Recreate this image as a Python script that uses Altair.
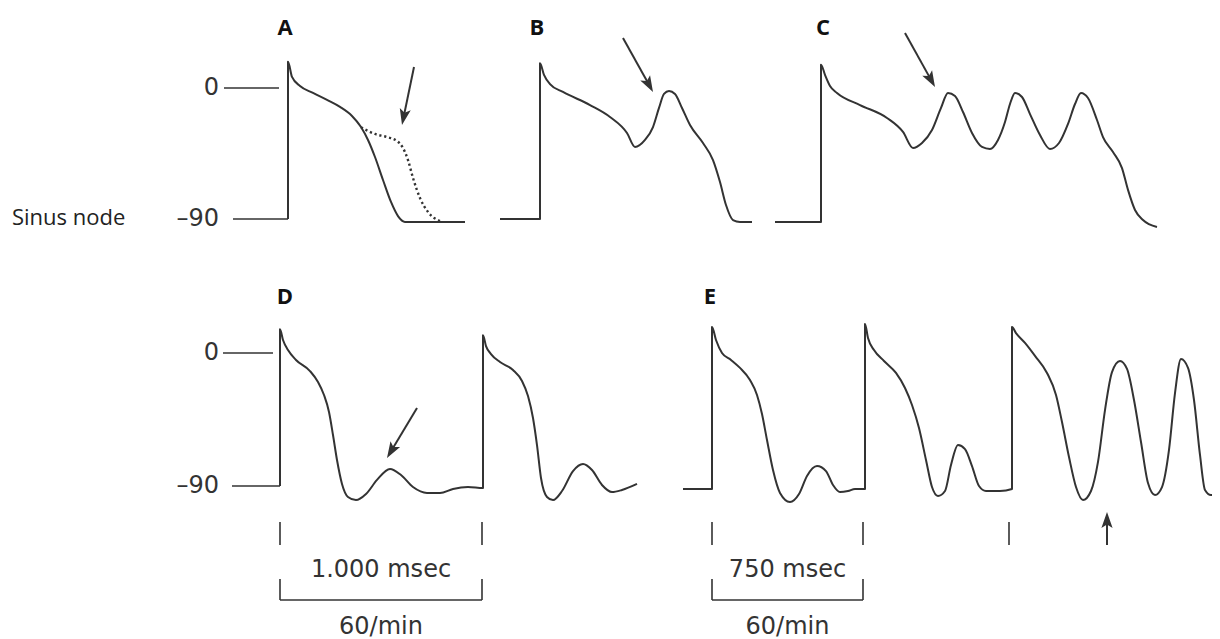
import math
import altair as alt
import pandas as pd

# ---------------- values ----------------
# time in ms measured from each trace's first upstroke, potential in mV
A_T = [0, 0, 20, 60, 125, 195, 260, 320, 365, 400, 435, 475, 515, 550, 585, 885]
A_V = [-90, 18, 7.6, 1.4, -3.4, -8.2, -13, -19.2, -26.8, -35.7, -47.4, -63.2, -78.3, -88, -92, -92]

A_DOT_T = [365, 435, 495, 545, 575, 600, 625, 660, 700, 760]
A_DOT_V = [-27, -31.6, -33.7, -36.4, -41.2, -49.5, -61.8, -75.6, -85.2, -91.4]

B_T = [-200, 0, 0, 20, 50, 115, 250, 350, 435, 475, 525, 565, 595, 620, 645, 675, 710,
       750, 815, 865, 900, 930, 965, 1000, 1060]
B_V = [-90, -90, 17, 9, 2.7, -2.7, -11.7, -19.9, -30.9, -40.5, -35.7, -26.8, -13.7, -4.1,
       -2.1, -4.1, -13.7, -25.4, -37.8, -49.5, -64.6, -80.4, -90.7, -92, -92]

C_T = [-230, 0, 0, 20, 45, 80, 195, 330, 410, 460, 505, 555, 600, 635, 670, 710, 755, 805,
       845, 885, 920, 945, 970, 1005, 1045, 1095, 1145, 1190, 1235, 1270, 1300, 1335, 1380,
       1410, 1460, 1505, 1535, 1570, 1610, 1680]
C_V = [-92, -92, 16, 9, 1.4, -3.4, -11.7, -20.6, -30.2, -41.2, -37.8, -28.9, -13.7, -3.4,
       -5.5, -16.5, -30.9, -40.5, -41.9, -35.7, -23.4, -11, -3.4, -6.2, -17.9, -32.3, -41.9,
       -37.8, -24.7, -11, -3.4, -6.9, -22, -33.7, -44, -55, -70, -83.8, -90.7, -95.5]

D_T = [0, 0, 15, 40, 80, 150, 190, 220, 245, 265, 285, 310, 340, 380, 430, 485, 550, 605,
       665, 735, 800, 865, 940, 1015, 1015, 1030, 1055, 1100, 1165, 1210, 1240, 1265, 1285,
       1305, 1335, 1365, 1410, 1465, 1515, 1560, 1610, 1660, 1710, 1785]
D_V = [-90, 16, 8.8, 2, -4.7, -12.2, -19.6, -28.4, -39.9, -55.5, -72.4, -88.6, -97.4, -99.5,
       -95.4, -85.9, -78.5, -82.6, -90.7, -94.7, -94.7, -92, -90.7, -91.4, 12, 4.7, -0.7,
       -6.1, -11.5, -18.9, -29.1, -44, -62.3, -84.6, -97.4, -99.5, -93.4, -79.9, -75.1,
       -79.2, -89.3, -94.1, -92.7, -88.6]

E_T = [-145, 0, 0, 20, 50, 95, 140, 190, 225, 250, 275, 305, 340, 390, 435, 475, 525, 570,
       605, 640, 680, 715, 765, 765, 780, 810, 860, 920, 965, 1000, 1035, 1070, 1100, 1130,
       1165, 1195, 1230, 1265, 1300, 1335, 1370, 1440, 1500, 1500, 1520, 1565, 1615, 1675,
       1720, 1750, 1785, 1820, 1855, 1895, 1930, 1965, 2000, 2040, 2075, 2110, 2145, 2180,
       2215, 2250, 2285, 2315, 2345, 2380, 2410, 2440, 2465, 2495, 2540]
E_V = [-92, -92, 17.6, 8.8, 0, -4.7, -10.1, -18.3, -28.4, -41.3, -58.9, -79.2, -94.7, -100.8,
       -95.4, -83.2, -76.5, -79.9, -89.3, -94.1, -93.4, -92, -92, 19.6, 10.1, 2, -5.4, -13.5,
       -23.7, -35.2, -50.8, -72.4, -90.7, -96.8, -93.4, -75.8, -62.3, -65, -76.5, -90, -93.4,
       -93.4, -92, 17.6, 13.5, 6.8, -2, -13.5, -28.4, -46.7, -70.4, -90.7, -99.5, -93.4,
       -73.7, -38.6, -12.9, -5.4, -10.8, -31.8, -60.2, -88, -96.1, -90.7, -65.6, -27.1,
       -4.1, -10.1, -31.8, -69, -92.7, -96.1, -94.7]

# arrows: panel, tail (ms, mV) and tip (ms, mV)
ARROW_PANEL = ["A", "B", "C", "D", "E"]
ARROW_T0 = [630, 415, 420, 685, 1975]
ARROW_V0 = [14.4, 34.3, 37.8, -37.2, -129.9]
ARROW_T1 = [570, 565, 570, 535, 1975]
ARROW_V1 = [-25.4, -2.7, 0.7, -71, -107.6]

# reference levels (mV) and their labels
REF_LEVELS = [0, -90]
REF_LABELS = ["0", "\u201390"]

# cycle-length marks (ms from the panel's first upstroke)
TICK_PANEL = ["D", "D", "E", "E", "E"]
TICK_T = [0, 1010, 0, 755, 1485]
BRACKET_PANEL = ["D", "E"]
BRACKET_T0 = [0, 0]
BRACKET_T1 = [1010, 755]
BRACKET_TEXT = ["1.000 msec", "750 msec"]
RATE_TEXT = ["60/min", "60/min"]

PANEL_LETTERS = ["A", "B", "C", "D", "E"]
ROW_TITLE = "Sinus node"

# ---------------- layout ----------------
W, H = 1204, 631
MS_PER_PX = 5.0
INK = "#333333"
NUM_FONT = "DejaVu Sans"
LBL_FONT = "Open Sans"


def gx(page_x):
    return (page_x - 8) * MS_PER_PX


OFFSET = {"A": gx(288), "B": gx(540), "C": gx(821), "D": gx(280), "E": gx(712)}
ROW = {"A": "top", "B": "top", "C": "top", "D": "bottom", "E": "bottom"}


def ydomain(y0_page, y90_page):
    k = (y90_page - y0_page) / 90.0
    top_local = y0_page - 8
    return [-(H - top_local) / k, top_local / k]


YDOM = {"top": ydomain(88, 219), "bottom": ydomain(353, 486)}


def kpx(row):
    d = YDOM[row]
    return H / (d[1] - d[0])


KX = 1.0 / MS_PER_PX
XSCALE = alt.Scale(domain=[0, W * MS_PER_PX], nice=False, zero=False)


def XF(field):
    return alt.X(f"{field}:Q", scale=XSCALE, axis=None)


X = XF("x")


def Y(row, field="v"):
    return alt.Y(f"{field}:Q", scale=alt.Scale(domain=YDOM[row], nice=False, zero=False), axis=None)


PY = alt.Y("py:Q", scale=None, axis=None)


def trace_df(name, T, V):
    return pd.DataFrame({"x": [OFFSET[name] + t for t in T], "v": V,
                         "i": list(range(len(T))), "trace": name})


top_df = pd.concat([trace_df("A", A_T, A_V), trace_df("B", B_T, B_V), trace_df("C", C_T, C_V)])
bot_df = pd.concat([trace_df("D", D_T, D_V), trace_df("E", E_T, E_V)])
dot_df = trace_df("A", A_DOT_T, A_DOT_V)

layers = []

# traces
for df, row in [(top_df, "top"), (bot_df, "bottom")]:
    layers.append(alt.Chart(df).mark_line(interpolate="monotone", color=INK, strokeWidth=2,
                                          clip=True, strokeJoin="round")
                  .encode(x=X, y=Y(row), detail="trace:N", order="i:Q"))
layers.append(alt.Chart(dot_df).mark_line(interpolate="monotone", color=INK, strokeWidth=2.4,
                                          strokeDash=[2.2, 2.8])
              .encode(x=X, y=Y("top"), order="i:Q"))

# reference lines (0 and -90) with labels
REF_X = {"top": [(gx(224), gx(279)), (gx(233), gx(288))],
         "bottom": [(gx(223), gx(273)), (gx(232), gx(280))]}
for row in ["top", "bottom"]:
    rdf = pd.DataFrame({"v": REF_LEVELS, "lab": REF_LABELS,
                        "x": [a for a, b in REF_X[row]], "x2": [b for a, b in REF_X[row]],
                        "xl": [gx(219), gx(219)]})
    layers.append(alt.Chart(rdf).mark_rule(color=INK, strokeWidth=1.6)
                  .encode(x=X, x2="x2:Q", y=Y(row)))
    layers.append(alt.Chart(rdf).mark_text(align="right", baseline="middle", font=NUM_FONT,
                                           fontSize=24, color=INK)
                  .encode(x=XF("xl"), y=Y(row), text="lab:N"))

# arrows
arr_rows = []
for p, t0, v0, t1, v1 in zip(ARROW_PANEL, ARROW_T0, ARROW_V0, ARROW_T1, ARROW_V1):
    row = ROW[p]
    x0, x1 = OFFSET[p] + t0, OFFSET[p] + t1
    dxp = (x1 - x0) * KX
    dyp = -(v1 - v0) * kpx(row)
    L = math.hypot(dxp, dyp)
    ux, uy = dxp / L, dyp / L
    ang = math.degrees(math.atan2(ux, -uy)) % 360
    arr_rows.append({"row": row, "x": x0, "v": v0,
                     "x2": x1 - ux * 9 / KX, "v2": v1 + uy * 9 / kpx(row),
                     "hx": x1, "hv": v1, "ang": ang})
arr_df = pd.DataFrame(arr_rows)
HEAD = "M0,0L-0.4,1.15L0,0.9L0.4,1.15Z"
for row in ["top", "bottom"]:
    sub = arr_df[arr_df["row"] == row]
    layers.append(alt.Chart(sub).mark_rule(color=INK, strokeWidth=2)
                  .encode(x=X, y=Y(row), x2="x2:Q", y2="v2:Q"))
    layers.append(alt.Chart(sub).mark_point(shape=HEAD, filled=True, color=INK, opacity=1,
                                            size=784, strokeWidth=0)
                  .encode(x=XF("hx"), y=Y(row, "hv"), angle=alt.Angle("ang:Q", scale=None)))

# panel letters and row title (pixel rows are layout)
LETTER_PAGE = {"A": (285, 28), "B": (537, 28), "C": (823, 28), "D": (285, 297), "E": (710, 297)}
let_df = pd.DataFrame({"lab": PANEL_LETTERS,
                       "x": [gx(LETTER_PAGE[k][0]) for k in PANEL_LETTERS],
                       "py": [LETTER_PAGE[k][1] - 8 for k in PANEL_LETTERS]})
layers.append(alt.Chart(let_df).mark_text(font=LBL_FONT, fontWeight="bold", fontSize=22,
                                          color="#111111", baseline="middle", align="center")
              .encode(x=X, y=PY, text="lab:N"))
title_df = pd.DataFrame({"lab": [ROW_TITLE], "x": [gx(12)], "py": [218 - 8]})
layers.append(alt.Chart(title_df).mark_text(font=LBL_FONT, fontSize=22, color="#222222",
                                            baseline="middle", align="left")
              .encode(x=X, y=PY, text="lab:N"))

# cycle-length ticks and brackets
tick_df = pd.DataFrame({"x": [OFFSET[p] + t for p, t in zip(TICK_PANEL, TICK_T)],
                        "py": 514, "py2": 537})
layers.append(alt.Chart(tick_df).mark_rule(color=INK, strokeWidth=1.6)
              .encode(x=X, y=PY, y2="py2:Q"))
brk = pd.DataFrame({"x": [OFFSET[p] + t for p, t in zip(BRACKET_PANEL, BRACKET_T0)],
                    "x2": [OFFSET[p] + t for p, t in zip(BRACKET_PANEL, BRACKET_T1)],
                    "lab": BRACKET_TEXT, "rate": RATE_TEXT})
brk["xm"] = (brk["x"] + brk["x2"]) / 2
ends = pd.DataFrame({"x": list(brk["x"]) + list(brk["x2"]), "py": 571, "py2": 592})
layers.append(alt.Chart(ends).mark_rule(color=INK, strokeWidth=1.6)
              .encode(x=X, y=PY, y2="py2:Q"))
brk["py"] = 592
layers.append(alt.Chart(brk).mark_rule(color=INK, strokeWidth=1.6)
              .encode(x=X, x2="x2:Q", y=PY))
brk_lab = brk.assign(py=562)
layers.append(alt.Chart(brk_lab).mark_text(font=NUM_FONT, fontSize=24, color=INK,
                                           baseline="middle", align="center")
              .encode(x=XF("xm"), y=PY, text="lab:N"))
brk_rate = brk.assign(py=619)
layers.append(alt.Chart(brk_rate).mark_text(font=NUM_FONT, fontSize=24, color=INK,
                                            baseline="middle", align="center")
              .encode(x=XF("xm"), y=PY, text="rate:N"))

chart = (alt.layer(*layers)
         .resolve_scale(y="independent")
         .properties(width=W, height=H, padding=0,
                     autosize=alt.AutoSizeParams(type="none"), background="white")
         .configure_view(stroke=None))

chart.save("out.html", embed_options={"renderer": "svg", "actions": False})
